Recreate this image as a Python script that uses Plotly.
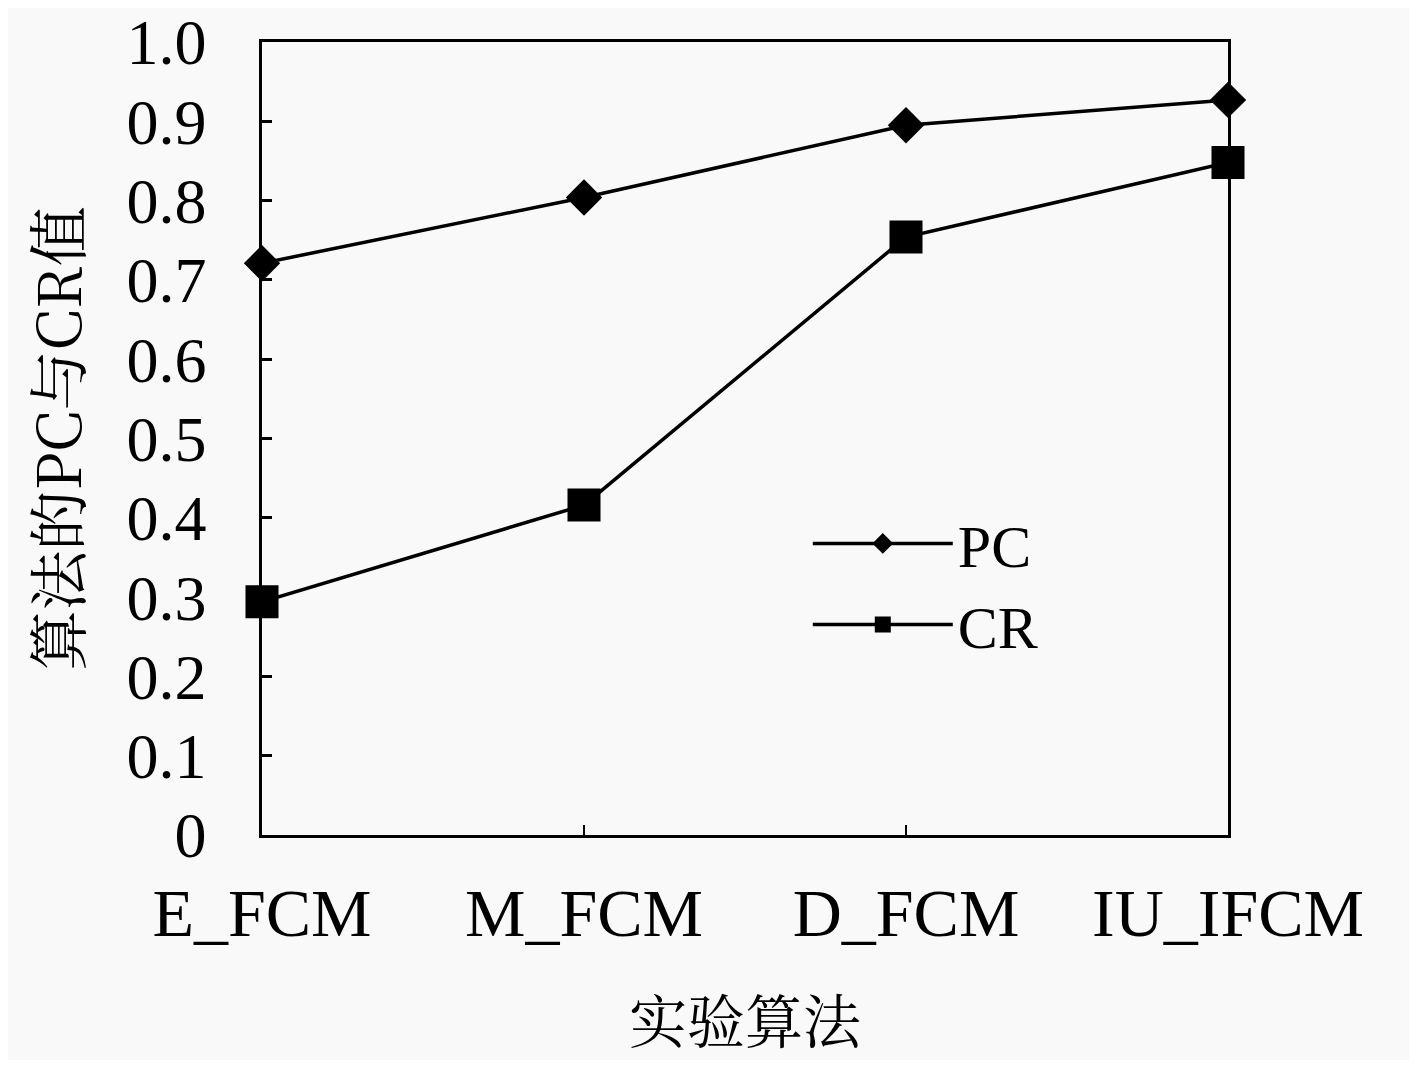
import plotly.graph_objects as go

algorithms = ['E_FCM', 'M_FCM', 'D_FCM', 'IU_IFCM']
pc_values = [0.721, 0.804, 0.895, 0.927]
cr_values = [0.294, 0.416, 0.754, 0.848]

y_ticks = [0, 0.1, 0.2, 0.3, 0.4, 0.5, 0.6, 0.7, 0.8, 0.9, 1.0]
y_ticktext = ['0', '0.1', '0.2', '0.3', '0.4', '0.5', '0.6', '0.7', '0.8', '0.9', '1.0']

x_title = '实验算法'
y_title = '算法的PC与CR值'

serif = 'Liberation Serif, Times New Roman, serif'
cjk = 'Noto Serif CJK SC, Noto Sans CJK SC, sans-serif'
bg = '#f9f9f9'

fig = go.Figure()
fig.add_trace(go.Scatter(
    x=algorithms, y=pc_values,
    mode='lines+markers',
    name='PC',
    cliponaxis=False,
    line=dict(color='black', width=3.5),
    marker=dict(symbol='diamond', size=28, color='black'),
))
fig.add_trace(go.Scatter(
    x=algorithms, y=cr_values,
    mode='lines+markers',
    name='CR',
    cliponaxis=False,
    line=dict(color='black', width=3.5),
    marker=dict(symbol='square', size=33, color='black'),
))

fig.update_xaxes(
    type='category',
    range=[0, 3],
    automargin=False,
    showline=True, linecolor='black', linewidth=2.5, mirror=True,
    ticks='inside', ticklen=10, tickwidth=2, tickcolor='black',
    tickfont=dict(family=serif, size=68, color='black'),
    ticklabelstandoff=17,
    ticklabeloverflow='allow',
    showgrid=False, zeroline=False,
)
fig.update_yaxes(
    range=[0, 1.0],
    automargin=False,
    tickvals=y_ticks, ticktext=y_ticktext,
    showline=True, linecolor='black', linewidth=2.5, mirror=True,
    ticks='inside', ticklen=10, tickwidth=2.5, tickcolor='black',
    tickfont=dict(family=serif, size=64, color='black'),
    ticklabelstandoff=40,
    ticklabeloverflow='allow',
    showgrid=False, zeroline=False,
)

# axis titles as annotations so they can sit where the original has them
fig.add_annotation(
    text=x_title, xref='paper', yref='paper', x=0.5, y=0,
    xanchor='center', yanchor='middle', yshift=-183, showarrow=False,
    font=dict(family=cjk, size=58, color='black'),
)
fig.add_annotation(
    text=y_title, xref='paper', yref='paper', x=0, y=0.5,
    xanchor='center', yanchor='middle', xshift=-208, textangle=-90, showarrow=False,
    font=dict(family=cjk, size=60, color='black'),
)

fig.update_layout(
    width=1401, height=1052,
    margin=dict(l=254, r=181, t=34, b=225),
    paper_bgcolor=bg, plot_bgcolor=bg,
    legend=dict(
        x=0.565, y=0.425, xanchor='left', yanchor='top',
        bgcolor='rgba(0,0,0,0)',
        font=dict(family=serif, size=60, color='black'),
        itemwidth=140,
        tracegroupgap=0,
    ),
)

fig.write_html('out.html')
